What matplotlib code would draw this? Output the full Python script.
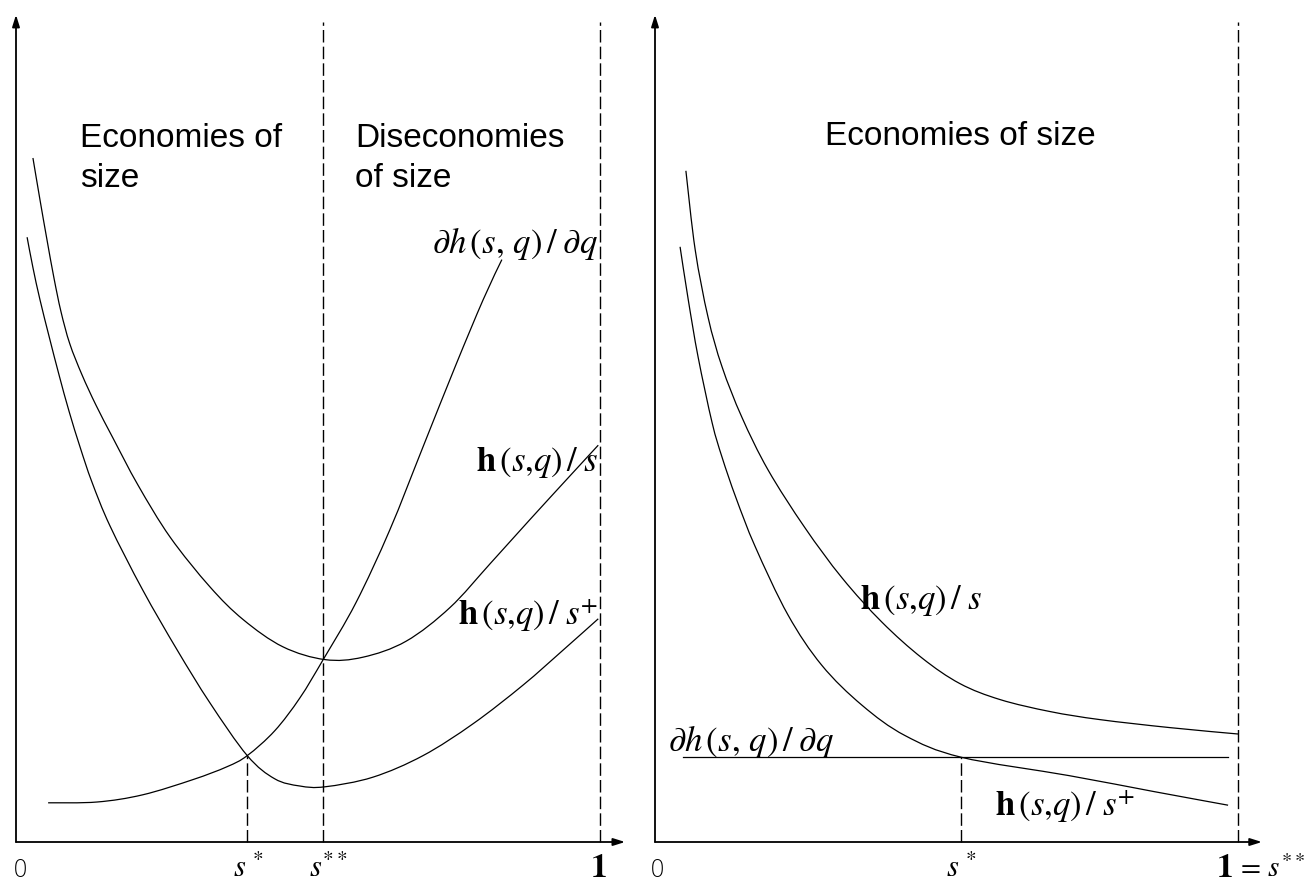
import matplotlib
matplotlib.use("Agg")
import matplotlib.pyplot as plt
from matplotlib.path import Path
from matplotlib.patches import PathPatch
import numpy as np

plt.rcParams["mathtext.fontset"] = "stix"
plt.rcParams["font.family"] = ["Liberation Sans", "DejaVu Sans"]

# ---------------- data (s = firm size share, c = cost per unit) ----------------
# Left panel: U-shaped costs
left_avg_s = [0.029, 0.041, 0.053, 0.065, 0.077, 0.092, 0.113, 0.137, 0.166, 0.209,
              0.264, 0.332, 0.389, 0.457, 0.529, 0.594, 0.668, 0.743, 0.812, 0.880,
              0.949, 0.997]
left_avg_c = [8.55, 8.03, 7.53, 7.05, 6.63, 6.23, 5.84, 5.46, 5.05, 4.46,
              3.81, 3.19, 2.78, 2.44, 2.28, 2.31, 2.51, 2.93, 3.48, 4.03,
              4.58, 4.96]

left_avgp_s = [0.019, 0.029, 0.041, 0.057, 0.074, 0.091, 0.110, 0.130, 0.161, 0.217,
               0.276, 0.332, 0.396, 0.443, 0.486, 0.529, 0.611, 0.697, 0.783, 0.868,
               0.937, 0.997]
left_avgp_c = [7.56, 7.18, 6.78, 6.31, 5.83, 5.38, 4.93, 4.50, 3.95, 3.15,
               2.40, 1.74, 1.08, 0.79, 0.70, 0.69, 0.81, 1.08, 1.48, 1.96,
               2.40, 2.79]

left_marg_s = [0.055, 0.139, 0.217, 0.303, 0.361, 0.396, 0.443, 0.486, 0.526,
               0.582, 0.640, 0.697, 0.753, 0.800, 0.832]
left_marg_c = [0.49, 0.50, 0.59, 0.78, 0.94, 1.08, 1.39, 1.80, 2.28,
               2.99, 3.90, 4.94, 5.96, 6.78, 7.28]

left_s_star = 0.396
left_s_star_c = 1.08
left_s_2star = 0.526

# Right panel: decreasing costs
right_avg_s = [0.053, 0.069, 0.091, 0.115, 0.149, 0.194, 0.257, 0.321, 0.389, 0.458,
               0.523, 0.592, 0.678, 0.763, 0.883, 1.000]
right_avg_c = [8.39, 7.40, 6.56, 5.94, 5.31, 4.65, 3.93, 3.30, 2.75, 2.30,
               1.98, 1.78, 1.63, 1.53, 1.43, 1.35]

right_avgp_s = [0.043, 0.057, 0.074, 0.098, 0.115, 0.139, 0.172, 0.228, 0.286, 0.355,
                0.429, 0.525, 0.710, 0.856, 0.983]
right_avgp_c = [7.44, 6.78, 6.06, 5.24, 4.81, 4.30, 3.69, 2.84, 2.21, 1.71,
                1.33, 1.06, 0.83, 0.63, 0.46]

right_marg_s = [0.048, 0.983]
right_marg_c = [1.06, 1.06]

right_s_star = 0.525
right_s_star_c = 1.06

top_c = 10.25

# ---------------- figure ----------------
W, H = 1307, 886
fig = plt.figure(figsize=(W / 100, H / 100), dpi=100)
fig.patch.set_facecolor("white")

SY = 80.0  # px per cost unit


def make_axes(x0, y0, sx, xmax, ymax):
    ax = fig.add_axes([x0 / W, (H - y0) / H, xmax * sx / W, ymax * SY / H])
    ax.set_xlim(0, xmax)
    ax.set_ylim(0, ymax)
    ax.axis("off")
    ap = dict(arrowstyle="-|>,head_length=0.7,head_width=0.22", lw=1.3, color="black",
              shrinkA=0, shrinkB=0)
    ax.annotate("", xy=(xmax, 0), xytext=(0, 0), arrowprops=ap, annotation_clip=False)
    ax.annotate("", xy=(0, ymax), xytext=(0, 0), arrowprops=ap, annotation_clip=False)
    return ax


def smooth_curve(ax, xs, ys, lw=0.9):
    """Draw a smooth (Catmull-Rom) path through the data points in data space."""
    pts = np.column_stack([xs, ys]).astype(float)
    n = len(pts)
    if n < 3:
        ax.plot(xs, ys, color="black", lw=lw, clip_on=False)
        return
    verts = [pts[0]]
    codes = [Path.MOVETO]
    for i in range(n - 1):
        p0 = pts[i - 1] if i > 0 else pts[i]
        p1 = pts[i]
        p2 = pts[i + 1]
        p3 = pts[i + 2] if i + 2 < n else pts[i + 1]
        c1 = p1 + (p2 - p0) / 6.0
        c2 = p2 - (p3 - p1) / 6.0
        verts += [c1, c2, p2]
        codes += [Path.CURVE4] * 3
    patch = PathPatch(Path(verts, codes), fill=False, edgecolor="black", lw=lw,
                      transform=ax.transData, clip_on=False)
    ax.add_patch(patch)


def px(x, y):
    return (x / W, 1 - y / H)


dash_kw = dict(color="black", lw=1.0, linestyle=(0, (9, 3)), clip_on=False)

# Left panel
axL = make_axes(16, 842, 584.0, 1.043, 10.34)
smooth_curve(axL, left_avg_s, left_avg_c)
smooth_curve(axL, left_avgp_s, left_avgp_c)
smooth_curve(axL, left_marg_s, left_marg_c)
axL.plot([left_s_star, left_s_star], [0, left_s_star_c], **dash_kw)
axL.plot([left_s_2star, left_s_2star], [0, top_c], **dash_kw)
axL.plot([1, 1], [0, top_c], **dash_kw)

# Right panel
axR = make_axes(655, 842, 583.0, 1.041, 10.34)
smooth_curve(axR, right_avg_s, right_avg_c)
smooth_curve(axR, right_avgp_s, right_avgp_c)
axR.plot(right_marg_s, right_marg_c, color="black", lw=0.9, clip_on=False)
axR.plot([right_s_star, right_s_star], [0, right_s_star_c], **dash_kw)
axR.plot([1, 1], [0, top_c], **dash_kw)

# ---------------- text ----------------
sans = dict(fontsize=24, family=["Liberation Sans", "DejaVu Sans"], color="black")
fig.text(*px(80, 147), "Economies of", ha="left", va="baseline", **sans)
fig.text(*px(80, 187), "size", ha="left", va="baseline", **sans)
fig.text(*px(355, 147), "Diseconomies", ha="left", va="baseline", **sans)
fig.text(*px(355, 187), "of size", ha="left", va="baseline", **sans)
fig.text(*px(825, 145), "Economies of size", ha="left", va="baseline", **sans)

mfs = 25
lab_marg = r"$\partial h\,(s,\,q)\,/\;\partial q$"
lab_avg = r"$\mathbf{h}\,(s{,}q)\,/\;s$"
lab_avgp = r"$\mathbf{h}\,(s{,}q)\,/\;s^{+}$"

fig.text(*px(598, 243), lab_marg, ha="right", va="center", fontsize=mfs)
fig.text(*px(598, 463), lab_avg, ha="right", va="center", fontsize=mfs)
fig.text(*px(598, 615), lab_avgp, ha="right", va="center", fontsize=mfs)

fig.text(*px(860, 600), lab_avg, ha="left", va="center", fontsize=mfs)
fig.text(*px(668, 742), lab_marg, ha="left", va="center", fontsize=mfs)
fig.text(*px(995, 806), lab_avgp, ha="left", va="center", fontsize=mfs)

# bottom labels
bfs = 22
base_y = 877
zero_kw = dict(fontsize=17, family=["DejaVu Sans"], fontweight="light", ha="center",
               va="baseline", color="black")
fig.text(*px(20, base_y), "0", **zero_kw)
fig.text(*px(657, base_y), "0", **zero_kw)
fig.text(*px(248, base_y), r"$s\ ^{*}$", ha="center", va="baseline", fontsize=bfs)
fig.text(*px(328, base_y), r"$s^{**}$", ha="center", va="baseline", fontsize=bfs)
fig.text(*px(598, base_y), r"$\mathbf{1}$", ha="center", va="baseline", fontsize=bfs + 2)
fig.text(*px(961, base_y), r"$s\ ^{*}$", ha="center", va="baseline", fontsize=bfs)
fig.text(*px(1224, base_y), r"$\mathbf{1}$", ha="center", va="baseline", fontsize=bfs + 2)
fig.text(*px(1236, base_y), r"$=\,s^{**}$", ha="left", va="baseline", fontsize=bfs - 1)

fig.savefig("out.png", dpi=100, facecolor="white")
